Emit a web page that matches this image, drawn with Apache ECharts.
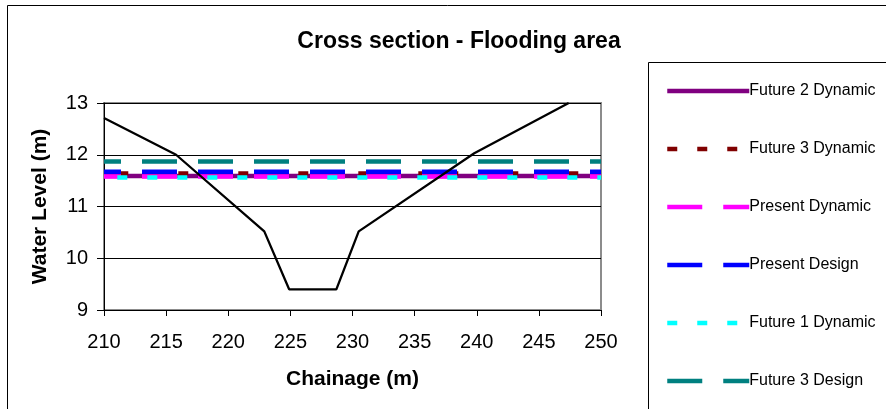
<!DOCTYPE html>
<html>
<head>
<meta charset="utf-8">
<script src="https://cdn.jsdelivr.net/npm/echarts@6/dist/echarts.min.js"></script>
<style>
html,body{margin:0;padding:0;background:#fff;}
#chart{width:886px;height:409px;}
</style>
</head>
<body>
<div id="chart"></div>
<script>
// ---- Data ----
const chainage = [210, 215.8, 222.9, 224.9, 226.8, 228.7, 230.5, 239.8, 247.4];
const groundLevel = [12.71, 12.0, 10.52, 9.4, 9.4, 9.4, 10.52, 12.03, 13.0];
const levelNames = ['Future 2 Dynamic', 'Future 3 Dynamic', 'Present Dynamic', 'Present Design', 'Future 1 Dynamic', 'Future 3 Design'];
const levelValues = [11.59, 11.64, 11.58, 11.67, 11.56, 11.87];
const levelExtent = [210, 250];
const xTicks = [210, 215, 220, 225, 230, 235, 240, 245, 250];
const yTicks = [9, 10, 11, 12, 13];

// ---- Styles ----
const levelColors = ['#800080', '#800000', '#FF00FF', '#0000FF', '#00FFFF', '#008080'];
const levelDash = ['solid', [10, 20], [35, 21], [35, 21], [10, 20], [35, 21]];
const levelOffset = [0, 15.7, 18, 18, 16.7, 18];
const font = 'Liberation Sans, Arial, sans-serif';

const chart = echarts.init(document.getElementById('chart'), null, {renderer: 'canvas'});

const series = levelNames.map((name, i) => ({
  name: name,
  type: 'line',
  data: levelExtent.map(x => [x, levelValues[i]]),
  symbol: 'none',
  color: levelColors[i],
  lineStyle: {color: levelColors[i], width: 4.5, type: levelDash[i], dashOffset: levelOffset[i], cap: 'butt'},
  z: 2 + i,
  animation: false
}));
series.push({
  name: 'Ground',
  type: 'line',
  data: chainage.map((x, i) => [x, groundLevel[i]]),
  symbol: 'none',
  lineStyle: {color: '#000', width: 2.3},
  z: 20,
  animation: false
});

chart.setOption({
  animation: false,
  title: {
    text: 'Cross section - Flooding area',
    left: 454, textAlign: 'center', top: 25,
    textStyle: {fontFamily: font, fontSize: 23, fontWeight: 'bold', color: '#000'}
  },
  graphic: [
    {type: 'rect', shape: {x: 7.5, y: 5.5, width: 900, height: 420}, style: {fill: null, stroke: '#000', lineWidth: 1}, z: -1},
    {type: 'rect', shape: {x: 648.5, y: 62.5, width: 300, height: 400}, style: {fill: null, stroke: '#000', lineWidth: 1}, z: -1}
  ],
  legend: {
    orient: 'vertical',
    left: 665, top: 83, padding: 0,
    itemWidth: 82, itemHeight: 14, itemGap: 42,
    data: levelNames,
    itemStyle: {opacity: 0},
    lineStyle: {width: 4.5, dashOffset: 0},
    textStyle: {fontFamily: font, fontSize: 16, color: '#000', padding: [0, 0, 0, -5]}
  },
  grid: {
    left: 104, top: 103, width: 497, height: 207,
    show: true, borderColor: '#8c8c8c', borderWidth: 2, backgroundColor: '#fff'
  },
  xAxis: {
    type: 'value', min: xTicks[0], max: xTicks[xTicks.length - 1], interval: 5,
    name: 'Chainage (m)', nameLocation: 'middle', nameGap: 59,
    nameTextStyle: {fontFamily: font, fontSize: 21, fontWeight: 'bold', color: '#000'},
    axisLine: {show: true, onZero: false, lineStyle: {color: '#000', width: 1}},
    axisTick: {show: true, inside: false, length: 6, lineStyle: {color: '#000'}},
    axisLabel: {fontFamily: font, fontSize: 20, color: '#000', margin: 22},
    splitLine: {show: false}
  },
  yAxis: {
    type: 'value', min: yTicks[0], max: yTicks[yTicks.length - 1], interval: 1,
    name: 'Water Level (m)', nameLocation: 'middle', nameGap: 53,
    nameTextStyle: {fontFamily: font, fontSize: 21, fontWeight: 'bold', color: '#000'},
    axisLine: {show: true, onZero: false, lineStyle: {color: '#000', width: 1}},
    axisTick: {show: true, inside: false, length: 7, lineStyle: {color: '#000'}},
    axisLabel: {fontFamily: font, fontSize: 20, color: '#000', margin: 16},
    splitLine: {show: true, lineStyle: {color: '#000', width: 1}}
  },
  series: series
});
</script>
</body>
</html>
